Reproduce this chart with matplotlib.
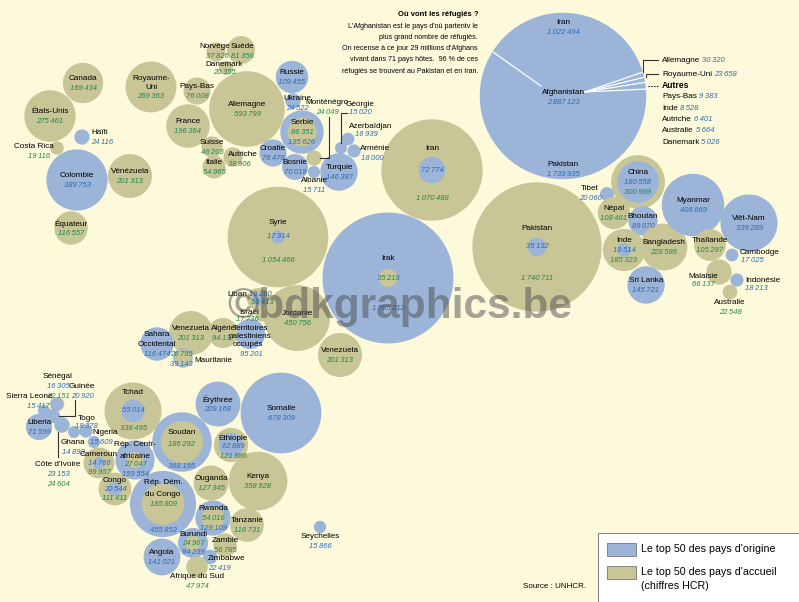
import matplotlib.pyplot as plt
from matplotlib.patches import Circle, Rectangle
import numpy as np

plt.rcParams['font.family'] = ['Liberation Sans', 'DejaVu Sans']

BLUE = '#9bb4d8'
OLIVE = '#c8c697'
BG = '#fdfadc'
BLUE_TXT = '#2a6cb3'
GREEN_TXT = '#1d8a4c'

# refugees by country of origin (blue)
origin = {
    'Haïti': 24116, 'Colombie': 389753, 'Russie': 109455, 'Ukraine': 24522, 'Serbie': 195626,
    'Croatie': 76478, 'Bosnie': 70018, 'Albanie': 15711, 'Turquie': 146387, 'Géorgie': 15020,
    'Azerbaïdjan': 16939, 'Arménie': 18000, 'Iran': 72774, 'Syrie': 17914, 'Irak': 1785212,
    'Liban': 16260, 'Territoires palestiniens occupés': 95201, 'Sahara Occidental': 116474,
    'Mauritanie': 39143, 'Afghanistan': 2887123, 'Pakistan': 35132, 'China': 180558, 'Tibet': 20060,
    'Bhoutan': 89070, 'Inde': 19514, 'Sri Lanka': 145721, 'Myanmar': 406669, 'Viêt-Nam': 339289,
    'Cambodge': 17025, 'Indonésie': 18213, 'Sénégal': 16305, 'Guinée': 20920, 'Sierra Leone': 15417,
    'Liberia': 71599, "Côte d'Ivoire": 23153, 'Togo': 18378, 'Ghana': 14893, 'Nigeria': 15609,
    'Cameroun': 14766, 'Rép. Centrafricaine': 159554, 'Congo': 20544, 'Tchad': 55014,
    'Soudan': 368195, 'Érythrée': 209168, 'Somalie': 678309, 'Éthiopie': 62889,
    'Rép. Dém. du Congo': 455852, 'Rwanda': 129109, 'Burundi': 94239, 'Zimbabwe': 22419,
    'Angola': 141021, 'Seychelles': 15866,
}

# refugees hosted (olive)
host = {
    'Canada': 169434, 'États-Unis': 275461, 'Costa Rica': 19116, 'Vénézuela': 201313,
    'Équateur': 116557, 'Royaume-Uni': 269363, 'Pays-Bas': 76008, 'France': 196364,
    'Allemagne': 593799, 'Norvège': 37826, 'Suède': 81356, 'Danemark': 20355, 'Suisse': 46203,
    'Italie': 54965, 'Autriche': 38906, 'Serbie': 86351, 'Monténégro': 24049, 'Iran': 1070488,
    'Syrie': 1054466, 'Irak': 35218, 'Jordanie': 450756, 'Liban': 50413, 'Israël': 17736,
    'Algérie': 94137, 'Venezuela 2': 201313, 'Mauritanie': 26795, 'Venezuela 3': 201313,
    'Pakistan': 1740711, 'China': 300989, 'Népal': 108461, 'Inde': 185323, 'Bangladesh': 228586,
    'Thaïlande': 105297, 'Malaisie': 66137, 'Australie': 22548, 'Sénégal': 22151,
    "Côte d'Ivoire": 24604, 'Cameroun': 99957, 'Rép. Centrafricaine': 27047, 'Congo': 111411,
    'Tchad': 338495, 'Soudan': 186292, 'Éthiopie': 121886, 'Kenya': 358928, 'Ouganda': 127345,
    'Rép. Dém. du Congo': 185809, 'Rwanda': 54016, 'Tanzanie': 118731, 'Burundi': 24967,
    'Zambie': 56785, 'Afrique du Sud': 47974,
}

# where the Afghan refugees are
afghan_dest = ['Iran', 'Pakistan', 'Allemagne', 'Royaume-Uni']
afghan_vals = [1022494, 1739935, 30320, 23658]
autres_names = ['Pays-Bas', 'Inde', 'Autriche', 'Australie', 'Danemark']
autres_vals = [9383, 8528, 6401, 5664, 5026]

# bubble layout (pixel positions)
pos = {
    'Canada': (83, 83), 'États-Unis': (50, 116), 'Haïti': (82, 137), 'Costa Rica': (57, 148),
    'Colombie': (77, 180), 'Vénézuela': (130, 176), 'Équateur': (71, 228),
    'Royaume-Uni': (151, 87), 'Pays-Bas': (197, 91), 'France': (188, 126), 'Allemagne': (247, 109),
    'Norvège': (216, 52), 'Suède': (241, 50), 'Danemark': (226, 68), 'Suisse': (212, 147),
    'Italie': (214, 167), 'Autriche': (233, 157), 'Russie': (292, 77), 'Ukraine': (293, 101),
    'Serbie': (302, 132), 'Croatie': (273, 153), 'Bosnie': (295, 167), 'Monténégro': (314, 158),
    'Albanie': (314, 172), 'Turquie': (339, 172), 'Géorgie': (341, 148), 'Azerbaïdjan': (348, 139),
    'Arménie': (354, 151), 'Iran': (432, 170), 'Syrie': (278, 237), 'Irak': (388, 278),
    'Jordanie': (297, 318), 'Liban': (258, 299), 'Israël': (262, 315),
    'Territoires palestiniens occupés': (250, 334), 'Algérie': (223, 333), 'Venezuela 2': (191, 333),
    'Sahara Occidental': (157, 344), 'Mauritanie': (183, 358), 'Venezuela 3': (340, 355),
    'Afghanistan': (563, 96), 'Pakistan': (537, 247), 'China': (638, 182), 'Tibet': (607, 194),
    'Népal': (614, 213), 'Bhoutan': (643, 221), 'Inde': (624, 250), 'Bangladesh': (664, 247),
    'Sri Lanka': (646, 285), 'Myanmar': (693, 205), 'Viêt-Nam': (749, 223), 'Thaïlande': (710, 245),
    'Cambodge': (732, 255), 'Malaisie': (719, 272), 'Indonésie': (737, 280), 'Australie': (730, 292),
    'Sénégal': (57, 404), 'Guinée': (53, 416), 'Sierra Leone': (44, 411), 'Liberia': (39, 427),
    "Côte d'Ivoire": (62, 425), 'Togo': (86, 431), 'Ghana': (74, 432), 'Nigeria': (94, 442),
    'Cameroun': (99, 463), 'Rép. Centrafricaine': (135, 460), 'Congo': (115, 489), 'Tchad': (133, 411),
    'Soudan': (182, 442), 'Érythrée': (218, 404), 'Somalie': (281, 413), 'Éthiopie': (231, 445),
    'Kenya': (258, 481), 'Ouganda': (211, 483), 'Rép. Dém. du Congo': (163, 504), 'Rwanda': (213, 518),
    'Tanzanie': (247, 525), 'Burundi': (193, 543), 'Zambie': (225, 545), 'Zimbabwe': (210, 557),
    'Angola': (162, 557), 'Afrique du Sud': (197, 567), 'Seychelles': (320, 527),
}

display = {
    'Royaume-Uni': 'Royaume-\nUni', 'Venezuela 2': 'Venezuela', 'Venezuela 3': 'Venezuela',
    'Sahara Occidental': 'Sahara\nOccidental',
    'Territoires palestiniens occupés': 'Territoires\npalestiniens\noccupés',
    'Rép. Centrafricaine': 'Rép. Centr-\nafricaine', 'Rép. Dém. du Congo': 'Rép. Dém.\ndu Congo',
}

# label positions that are not simply centred on the bubble
text_at = {
    'Haïti': [(91, 133, 'left'), (91, 143, 'left')],
    'Costa Rica': [(34, 147), (39, 156)],
    'Norvège': [(215, 47), (217, 56)], 'Suède': [(242, 47), (242, 56)],
    'Danemark': [(224, 64), (224, 73)], 'Autriche': [(243, 154), (239, 164)],
    'Ukraine': [(297, 98), (297, 108)], 'Monténégro': [(327, 103), (327, 113)],
    'Albanie': [(314, 181), (314, 190)], 'Géorgie': [(360, 104), (360, 113)],
    'Azerbaïdjan': [(371, 126), (366, 135)], 'Arménie': [(375, 149), (372, 158)],
    'Iran': [(432, 148), (432, 170), (432, 199)], 'Syrie': [(278, 222), (278, 237), (278, 260)],
    'Irak': [(388, 259), (388, 278), (388, 308)], 'Pakistan': [(537, 228), (537, 247), (537, 278)],
    'Liban': [(237, 294), (260, 294), (262, 303)], 'Israël': [(249, 312), (247, 319.5)],
    'Territoires palestiniens occupés': [(250, 328.5), (250, 336), (248, 344), (251, 354)],
    'Mauritanie': [(194, 361, 'left'), (181, 354), (181, 364)],
    'Tibet': [(590, 189), (590, 198)], 'Cambodge': [(740, 252, 'left'), (741, 261, 'left')],
    'Malaisie': [(703, 276), (703, 285)], 'Indonésie': [(745, 280, 'left'), (745, 289, 'left')],
    'Australie': [(730, 303), (730, 312)],
    'Sénégal': [(58, 377), (58, 387), (58, 397)], 'Guinée': [(82, 386), (82, 396)],
    'Sierra Leone': [(29, 396), (38, 406)], "Côte d'Ivoire": [(58, 465), (58, 475), (58, 485)],
    'Togo': [(87, 418), (86, 427)], 'Ghana': [(73, 443), (73, 453)], 'Nigeria': [(105, 433), (101, 443)],
    'Rép. Centrafricaine': [(135, 445), (135, 456), (135, 465), (135, 474)],
    'Tchad': [(133, 393), (133, 411), (133, 429)], 'Soudan': [(182, 432), (182, 445), (182, 467)],
    'Rép. Dém. du Congo': [(163, 483), (163, 494), (163, 504), (163, 531)],
    'Éthiopie': [(233, 438), (233, 447), (233, 457)],
    'Zimbabwe': [(226, 559), (219, 569)], 'Afrique du Sud': [(197, 577), (197, 586)],
    'Seychelles': [(320, 537), (320, 547)],
}

K = 0.049  # radius (px) per sqrt(refugees)


def fmt(v):
    return f'{v:,}'.replace(',', '\u2009')


fig = plt.figure(figsize=(7.99, 6.02), dpi=100, facecolor=BG)
ax = fig.add_axes([0, 0, 1, 1])
ax.set_xlim(0, 799)
ax.set_ylim(602, 0)
ax.set_aspect('equal')
ax.axis('off')
ax.set_facecolor(BG)

# circles: outer ones first, inner ones on top
outer, inner = [], []
for name, (x, y) in pos.items():
    vals = []
    if name in origin:
        vals.append((origin[name], BLUE))
    if name in host:
        vals.append((host[name], OLIVE))
    vals.sort(reverse=True)
    outer.append((x, y) + vals[0])
    if len(vals) > 1:
        inner.append((x, y) + vals[1])
for x, y, v, c in outer + inner:
    ax.add_patch(Circle((x, y), K * np.sqrt(v), fc=c, ec='none', zorder=2))

# labels
NAME_FS = 5.9
VAL_FS = 5.5
for name, (x, y) in pos.items():
    if name == 'Afghanistan':
        continue
    lines = [(s, 'black', 'normal') for s in display.get(name, name).split('\n')]
    vals = []
    if name in origin:
        vals.append((origin[name], BLUE_TXT))
    if name in host:
        vals.append((host[name], GREEN_TXT))
    vals.sort()
    lines += [(fmt(v), c, 'italic') for v, c in vals]
    n = len(lines)
    if name in text_at:
        spots = text_at[name]
    else:
        spots = [(x, y + 0.5 + (i - (n - 1) / 2) * 9.5) for i in range(n)]
    for (s, c, st), spot in zip(lines, spots):
        ha = spot[2] if len(spot) > 2 else 'center'
        ax.text(spot[0], spot[1], s, ha=ha, va='center', color=c, style=st,
                fontsize=VAL_FS if st == 'italic' else NAME_FS, zorder=5)

# connector lines
lk = dict(color='#333333', lw=0.8, zorder=4)
ax.plot([329, 329, 320], [117, 158, 158], **lk)
ax.plot([341, 341, 347], [143, 113, 113], **lk)
ax.plot([75, 75, 59], [400, 416, 416], **lk)
ax.plot([58, 58], [432, 457], **lk)

# Afghanistan breakdown
ax.text(563, 93, 'Afghanistan', ha='center', va='center', fontsize=NAME_FS, zorder=5)
ax.text(563, 103, fmt(origin['Afghanistan']), ha='center', va='center', fontsize=VAL_FS,
        style='italic', color=BLUE_TXT, zorder=5)
ax.text(563, 23, afghan_dest[0], ha='center', va='center', fontsize=NAME_FS, zorder=5)
ax.text(563, 32, fmt(afghan_vals[0]), ha='center', va='center', fontsize=VAL_FS,
        style='italic', color=BLUE_TXT, zorder=5)
ax.text(563, 165, afghan_dest[1], ha='center', va='center', fontsize=NAME_FS, zorder=5)
ax.text(563, 174, fmt(afghan_vals[1]), ha='center', va='center', fontsize=VAL_FS,
        style='italic', color=BLUE_TXT, zorder=5)

wl = dict(color='white', lw=0.9, zorder=3)
ax.plot([493, 541], [52, 86], **wl)
for ex, ey in [(643, 72), (645, 77), (647, 82), (647, 89)]:
    ax.plot([585, ex], [92, ey], **wl)
ax.plot([643, 643, 658], [72, 60, 60], **lk)
ax.plot([646, 646, 658], [77, 74, 74], **lk)
ax.plot([648, 658], [86, 86], color='#333333', lw=0.8, ls=(0, (1.5, 1)), zorder=4)

renderer = fig.canvas.get_renderer()
side = [(afghan_dest[2], afghan_vals[2], 60), (afghan_dest[3], afghan_vals[3], 74)]
side += [(n, v, 97 + i * 11.3) for i, (n, v) in enumerate(zip(autres_names, autres_vals))]
for n, v, yy in side:
    t = ax.text(662, yy, n, ha='left', va='center', fontsize=NAME_FS, zorder=5)
    x1 = t.get_window_extent(renderer).x1
    ax.text(x1 + 2, yy, fmt(v), ha='left', va='center', fontsize=VAL_FS,
            style='italic', color=BLUE_TXT, zorder=5)
ax.text(662, 86, 'Autres', ha='left', va='center', fontsize=NAME_FS + 0.3,
        fontweight='bold', zorder=5)

# title block
ax.text(478, 15, 'Où vont les réfugiés ?', ha='right', va='center', fontsize=5.5,
        fontweight='bold', zorder=5)
intro = ["L'Afghanistan est le pays d'où partentv le",
         'plus grand nombre de réfugiés.',
         "On recense à ce jour 29 millions d'Afghans",
         'vivant dans 71 pays hôtes.  96 % de ces',
         'réfugiés se trouvent au Pakistan et en Iran.']
for i, s in enumerate(intro):
    ax.text(478, 26 + i * 11.3, s, ha='right', va='center', fontsize=5.1, zorder=5)

# watermark
ax.text(400, 318, '©bdkgraphics.be', ha='center', va='baseline', fontsize=30.5,
        fontweight='bold', color='#4d4d4d', alpha=0.5, zorder=6)

# legend and source
ax.add_patch(Rectangle((598, 533), 210, 80, fc='white', ec='#888888', lw=0.8, zorder=7))
ax.add_patch(Rectangle((607, 543), 29, 13, fc=BLUE, ec='#777777', lw=0.6, zorder=8))
ax.add_patch(Rectangle((607, 566), 29, 13, fc=OLIVE, ec='#777777', lw=0.6, zorder=8))
lf = dict(ha='left', va='center', fontsize=7.7, zorder=8)
ax.text(641, 549, "Le top 50 des pays d'origine", **lf)
ax.text(641, 572, "Le top 50 des pays d'accueil", **lf)
ax.text(641, 586, '(chiffres HCR)', **lf)
ax.text(523, 587, 'Source : UNHCR.', ha='left', va='center', fontsize=5.8, zorder=8)

fig.savefig('out.png', dpi=100, facecolor=BG)
